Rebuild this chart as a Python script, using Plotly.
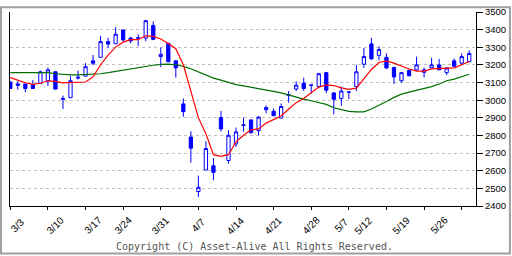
import pandas as pd
import plotly.graph_objects as go

# ---- data ----
holidays = ["2025-03-20", "2025-04-29", "2025-05-05", "2025-05-06"]
days = [d for d in pd.bdate_range("2025-03-03", "2025-06-02") if d.strftime("%Y-%m-%d") not in holidays]
day_labels = [f"{d.month}/{d.day}" for d in days]

opens = [3103, 3092, 3092, 3088, 3096, 3110, 3161, 3010, 3014, 3125,
         3136, 3223, 3243, 3332, 3320, 3398, 3352, 3350, 3352, 3423,
         3247, 3322, 3223, 2979, 2791, 2482, 2604, 2628, 2901, 2658,
         2752, 2857, 2888, 2828, 2946, 2937, 2899, 3026, 3063, 3096,
         3086, 3077, 3156, 3041, 3010, 3046, 3077, 3204, 3319, 3254,
         3243, 3185, 3110, 3168, 3172, 3158, 3183, 3200, 3156, 3223,
         3210, 3219]
highs = [3105, 3107, 3094, 3114, 3167, 3185, 3163, 3026, 3136, 3168,
         3210, 3256, 3365, 3354, 3414, 3400, 3360, 3374, 3451, 3447,
         3298, 3325, 3225, 3010, 2824, 2573, 2768, 2672, 2939, 2830,
         2845, 2902, 2890, 2910, 2970, 2953, 2981, 3052, 3107, 3128,
         3088, 3155, 3160, 3045, 3077, 3050, 3201, 3296, 3354, 3305,
         3265, 3190, 3160, 3174, 3247, 3185, 3241, 3234, 3185, 3237,
         3265, 3283]
lows = [3064, 3060, 3045, 3066, 3096, 3081, 3060, 2950, 3014, 3117,
        3136, 3198, 3243, 3296, 3320, 3332, 3323, 3307, 3334, 3340,
        3187, 3215, 3128, 2906, 2646, 2451, 2604, 2546, 2822, 2640,
        2735, 2821, 2810, 2800, 2925, 2911, 2898, 2986, 3052, 3052,
        3037, 3070, 3040, 2919, 2968, 3006, 3052, 3183, 3230, 3225,
        3177, 3092, 3099, 3134, 3168, 3128, 3183, 3172, 3143, 3192,
        3201, 3214]
closes = [3066, 3085, 3066, 3066, 3161, 3172, 3063, 3006, 3110, 3130,
          3190, 3210, 3332, 3318, 3374, 3342, 3336, 3354, 3451, 3345,
          3260, 3218, 3183, 2935, 2728, 2506, 2726, 2591, 2837, 2801,
          2820, 2860, 2816, 2904, 2958, 2912, 2964, 3030, 3085, 3066,
          3085, 3150, 3057, 3005, 3052, 3046, 3161, 3248, 3234, 3287,
          3183, 3132, 3156, 3139, 3200, 3172, 3200, 3172, 3183, 3192,
          3247, 3265]
ma_short = [3128, 3114, 3099, 3090, 3096, 3110, 3107, 3098, 3099, 3098,
            3103, 3132, 3201, 3256, 3301, 3329, 3343, 3343, 3365, 3362,
            3347, 3322, 3292, 3201, 3056, 2901, 2810, 2691, 2682, 2691,
            2764, 2801, 2832, 2837, 2870, 2892, 2910, 2950, 2986, 3010,
            3041, 3074, 3087, 3083, 3070, 3061, 3068, 3119, 3174, 3214,
            3223, 3210, 3192, 3177, 3165, 3165, 3177, 3179, 3183, 3183,
            3201, 3219]
ma_long = [3156, 3156, 3156, 3156, 3156, 3156, 3150, 3145, 3143, 3143,
           3145, 3147, 3150, 3156, 3163, 3170, 3180, 3185, 3192, 3198,
           3203, 3205, 3201, 3192, 3178, 3159, 3143, 3125, 3114, 3101,
           3088, 3081, 3074, 3065, 3059, 3050, 3041, 3028, 3019, 3006,
           2997, 2987, 2976, 2957, 2946, 2937, 2934, 2934, 2950, 2970,
           2992, 3016, 3034, 3046, 3056, 3065, 3077, 3092, 3110, 3119,
           3132, 3147]
tick_every = 5
label_dates = ["3/3", "3/10", "3/17", "3/24", "3/31", "4/7", "4/14", "4/21",
               "4/28", "5/7", "5/12", "5/19", "5/26"]
y_ticks = list(range(2400, 3501, 100))
copyright_text = "Copyright (C) Asset-Alive All Rights Reserved."

# ---- figure ----
W, H = 512, 256
L, R, T, B = 10, 35, 6, 50
idx = list(range(len(opens)))

fig = go.Figure()
fig.add_trace(go.Scatter(x=idx, y=ma_long, mode="lines",
                         line=dict(color="#006e00", width=1.2), hoverinfo="skip"))
fig.add_trace(go.Scatter(x=idx, y=ma_short, mode="lines",
                         line=dict(color="#ff0000", width=1.2), hoverinfo="skip"))
fig.add_trace(go.Candlestick(
    x=idx, open=opens, high=highs, low=lows, close=closes,
    increasing=dict(line=dict(color="#0000ff", width=1), fillcolor="#ffffff"),
    decreasing=dict(line=dict(color="#0000ff", width=1), fillcolor="#0000ff"),
    whiskerwidth=0, hoverinfo="skip"))

for lab in label_dates:
    fig.add_annotation(x=day_labels.index(lab), y=0, xref="x", yref="paper",
                       text=lab, textangle=-45, showarrow=False,
                       xanchor="center", yanchor="middle", xshift=7, yshift=-19,
                       font=dict(family="Liberation Sans", size=10, color="#000000"))

fig.add_annotation(x=0.5, y=0, xref="paper", yref="paper", text=copyright_text,
                   showarrow=False, xanchor="center", yanchor="middle",
                   yshift=-40, xshift=11.5,
                   font=dict(family="DejaVu Sans Mono", size=10, color="#555555"))

pw, ph = W - L - R, H - T - B
fig.add_shape(type="rect", xref="paper", yref="paper",
              x0=(-L + 1) / pw, x1=1 + (R - 1) / pw,
              y0=(-B + 1) / ph, y1=1 + (T - 1) / ph,
              line=dict(color="#a0a0a0", width=2), layer="above")

fig.update_layout(
    width=W, height=H, margin=dict(l=L, r=R, t=T, b=B),
    paper_bgcolor="#ffffff", plot_bgcolor="#ffffff",
    showlegend=False, boxgap=0.38, hovermode=False,
    xaxis=dict(range=[-0.04, len(opens) - 0.1], rangeslider=dict(visible=False),
               tickvals=idx[::tick_every], ticktext=[""] * len(idx[::tick_every]),
               ticks="outside", ticklen=3, tickcolor="#000000",
               showline=True, linecolor="#000000", linewidth=1,
               showgrid=False, zeroline=False, fixedrange=True),
    yaxis=dict(range=[2400, 3500], side="right", tickvals=y_ticks,
               ticks="outside", ticklen=6, tickcolor="#000000",
               showline=True, mirror=True, linecolor="#000000", linewidth=1,
               showgrid=True, gridcolor="#c0c0c0", griddash="3px,3px", gridwidth=1,
               zeroline=False,
               tickfont=dict(family="Liberation Sans", size=9.5, color="#000000")),
)

fig.write_html("out.html")
